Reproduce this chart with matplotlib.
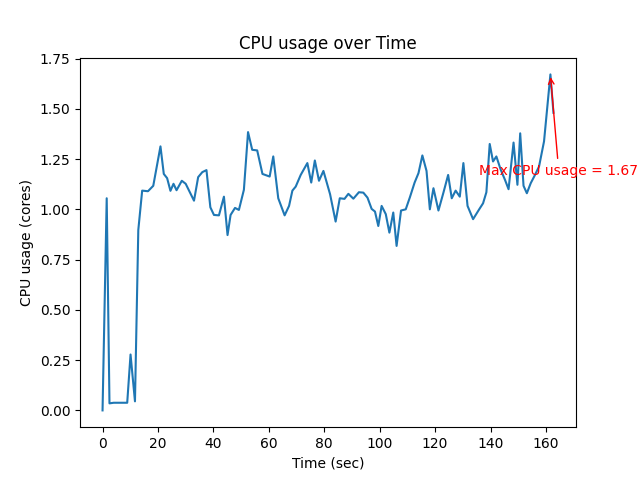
import matplotlib
matplotlib.use("Agg")
import matplotlib.pyplot as plt
import numpy as np

# time stamps (sec) and cpu usage (cores)
timeSec = [
    0.0, 1.5, 2.5, 4.0, 5.5, 7.0, 8.9, 10.1, 11.7, 12.9, 14.3, 16.4, 18.3,
    20.9, 22.1, 23.3, 24.5, 25.6, 26.7, 28.6, 30.0, 33.0, 34.5, 36.0, 37.5,
    38.9, 40.2, 42.0, 43.8, 45.1, 46.2, 47.8, 49.2, 51.0, 52.5, 54.0, 55.8,
    57.7, 60.3, 61.6, 63.4, 65.7, 67.3, 68.5, 69.7, 71.5, 73.9, 75.3, 76.6,
    78.1, 79.7, 82.1, 84.1, 85.6, 87.3, 88.7, 90.5, 92.5, 94.1, 95.6, 97.1,
    98.3, 99.5, 100.7, 102.2, 103.5, 104.9, 106.1, 107.7, 109.4, 110.9,
    112.6, 114.0, 115.4, 116.9, 118.1, 119.4, 121.2, 123.0, 124.7, 126.0,
    127.4, 128.9, 130.2, 131.7, 133.7, 135.9, 137.3, 138.5, 139.7, 140.9,
    142.1, 143.7, 145.2, 146.5, 148.3, 149.7, 150.7, 151.9, 153.1, 154.5,
    156.0, 157.5, 159.3, 161.6, 162.7,
]
cpuCores = [
    0.0, 1.055, 0.035, 0.038, 0.038, 0.038, 0.038, 0.278, 0.045, 0.897,
    1.093, 1.09, 1.117, 1.313, 1.176, 1.155, 1.092, 1.127, 1.095, 1.142,
    1.127, 1.043, 1.16, 1.185, 1.195, 1.01, 0.972, 0.97, 1.063, 0.872, 0.972,
    1.007, 0.997, 1.097, 1.384, 1.296, 1.293, 1.176, 1.163, 1.263, 1.055,
    0.97, 1.017, 1.093, 1.113, 1.171, 1.23, 1.133, 1.243, 1.142, 1.191,
    1.075, 0.939, 1.055, 1.052, 1.077, 1.053, 1.085, 1.083, 1.058, 1.002,
    0.989, 0.917, 1.017, 0.976, 0.884, 0.984, 0.818, 0.994, 1.0, 1.06,
    1.133, 1.18, 1.268, 1.191, 1.0, 1.105, 0.994, 1.083, 1.171, 1.055,
    1.093, 1.063, 1.23, 1.017, 0.951, 1.0, 1.03, 1.085, 1.325, 1.238,
    1.263, 1.196, 1.147, 1.1, 1.332, 1.122, 1.378, 1.117, 1.08, 1.13,
    1.17, 1.213, 1.338, 1.671, 1.48,
]

timeArr = np.asarray(timeSec)
cpuArr = np.asarray(cpuCores)
maxIdx = int(np.argmax(cpuArr))
maxTime = timeArr[maxIdx]
maxCpu = cpuArr[maxIdx]

fig, ax = plt.subplots(figsize=(6.4, 4.8), dpi=100)
ax.plot(timeArr, cpuArr)
ax.annotate("Max CPU usage = %.2f" % maxCpu,
            xy=(maxTime, maxCpu),
            xytext=(maxTime + 3, maxCpu - 0.5),
            color="red", ha="center",
            arrowprops=dict(arrowstyle="->", color="red"))
ax.set_title("CPU usage over Time")
ax.set_xlabel("Time (sec)")
ax.set_ylabel("CPU usage (cores)")
fig.savefig("out.png")
